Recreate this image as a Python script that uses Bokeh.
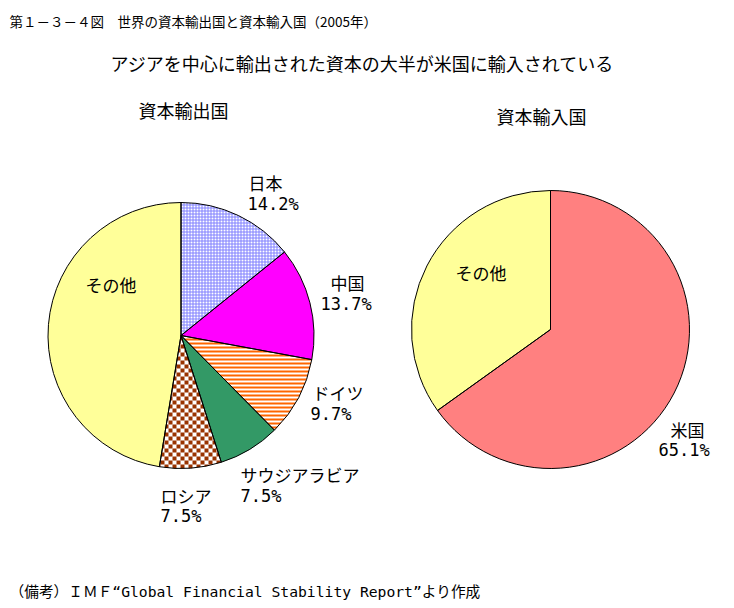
import numpy as np
from bokeh.plotting import figure
from bokeh.models import Range1d, ColumnDataSource
from bokeh.core.properties import value
from bokeh.embed import file_html
from bokeh.resources import INLINE

# ---- data ----
exp_labels = ["日本", "中国", "ドイツ", "サウジアラビア", "ロシア", "その他"]
exp_values = [14.2, 13.7, 9.7, 7.5, 7.5, 47.4]
imp_labels = ["米国", "その他"]
imp_values = [65.1, 34.9]

title = "第１－３－４図　世界の資本輸出国と資本輸入国（2005年）"
subtitle = "アジアを中心に輸出された資本の大半が米国に輸入されている"
exp_title = "資本輸出国"
imp_title = "資本輸入国"
note = "（備考）ＩＭＦ“Global Financial Stability Report”より作成"

# ---- styles ----
exp_fill = ["#8080FF", "#FF00FF", "#FFFFFF", "#339966", "#FFFFFF", "#FFFF99"]
exp_pattern = ["dots", None, "stripes", None, "checker", None]
imp_fill = ["#FF8080", "#FFFF99"]

W, H = 718, 600
def Y(py):
    return H - py

p = figure(width=W, height=H, x_range=Range1d(0, W), y_range=Range1d(0, H),
           output_backend="svg", toolbar_location=None, min_border=0,
           x_axis_type=None, y_axis_type=None)
p.outline_line_color = None
p.grid.visible = False


def clip_convex(subject, clip):
    # Sutherland-Hodgman; clip polygon convex
    cx = np.array(clip)
    area = 0.5 * np.sum(cx[:, 0] * np.roll(cx[:, 1], -1) - np.roll(cx[:, 0], -1) * cx[:, 1])
    orient = 1.0 if area > 0 else -1.0
    out = list(subject)
    n = len(clip)
    for i in range(n):
        if not out:
            break
        ax, ay = clip[i]
        bx, by = clip[(i + 1) % n]
        def inside(P):
            return orient * ((bx - ax) * (P[1] - ay) - (by - ay) * (P[0] - ax)) >= -1e-9
        def inter(S, E):
            d1 = (bx - ax) * (S[1] - ay) - (by - ay) * (S[0] - ax)
            d2 = (bx - ax) * (E[1] - ay) - (by - ay) * (E[0] - ax)
            t = d1 / (d1 - d2)
            return (S[0] + t * (E[0] - S[0]), S[1] + t * (E[1] - S[1]))
        inp = out
        out = []
        S = inp[-1]
        for E in inp:
            if inside(E):
                if not inside(S):
                    out.append(inter(S, E))
                out.append(E)
            elif inside(S):
                out.append(inter(S, E))
            S = E
    return out


def pattern_shapes(kind, cx, cy, r, a0, a1):
    n = max(8, int(abs(a0 - a1) / (2 * np.pi) * 200))
    ang = np.linspace(a0, a1, n)
    sector = [(cx, cy)] + [(cx + r * np.cos(a), cy + r * np.sin(a)) for a in ang]
    sx = [q[0] for q in sector]
    sy = [q[1] for q in sector]
    x0, x1, y0, y1 = np.floor(min(sx)), np.ceil(max(sx)), np.floor(min(sy)), np.ceil(max(sy))
    rects = []
    if kind == "stripes":
        y = y0 - (y0 % 4)
        while y < y1:
            rects.append([(x0, y), (x1, y), (x1, y + 2), (x0, y + 2)])
            y += 4
    elif kind == "checker":
        c = 4
        yy = y0 - (y0 % c)
        while yy < y1:
            xx = x0 - (x0 % c)
            while xx < x1:
                if (int(xx // c) + int(yy // c)) % 2 == 0:
                    rects.append([(xx, yy), (xx + c, yy), (xx + c, yy + c), (xx, yy + c)])
                xx += c
            yy += c
    elif kind == "dots":
        c = 3
        yy = y0 - (y0 % c)
        while yy < y1:
            xx = x0 - (x0 % c)
            while xx < x1:
                rects.append([(xx + 1, yy), (xx + 3, yy), (xx + 3, yy + 2), (xx + 1, yy + 2)])
                xx += c
            yy += c
    xs, ys = [], []
    for rc in rects:
        cl = clip_convex(rc, sector)
        if len(cl) >= 3:
            xs.append([q[0] for q in cl])
            ys.append([q[1] for q in cl])
    return xs, ys


pattern_color = {"dots": "#FFFFFF", "stripes": "#FF6600", "checker": "#993300"}


def pie(vals, cx, cy, r, fills, patterns=None):
    v = np.array(vals, dtype=float)
    frac = v / v.sum()
    cum = np.concatenate([[0], np.cumsum(frac)])
    start = np.pi / 2 - cum[:-1] * 2 * np.pi
    end = np.pi / 2 - cum[1:] * 2 * np.pi
    src = ColumnDataSource(dict(start=start, end=end, fill=fills))
    p.wedge(x=cx, y=cy, radius=r, start_angle="start", end_angle="end",
            direction="clock", source=src, fill_color="fill", line_color=None)
    if patterns is not None:
        for kind, a0, a1 in zip(patterns, start, end):
            if kind is None:
                continue
            xs, ys = pattern_shapes(kind, cx, cy, r, a0, a1)
            p.patches(xs=xs, ys=ys, fill_color=pattern_color[kind], line_color=None)
    p.wedge(x=cx, y=cy, radius=r, start_angle="start", end_angle="end",
            direction="clock", source=src, fill_color=None, line_color="black",
            line_width=1)


pie(exp_values, 180.5, Y(335), 133, exp_fill, exp_pattern)
pie(imp_values, 550, Y(329), 139, imp_fill)

FONT = value("'DejaVu Sans Mono', 'Noto Sans CJK JP'")

def txt(x, y, s, size, align="left", font=FONT):
    p.text(x=[x], y=[Y(y)], text=[s], text_font=font, text_font_size=f"{size}px",
           text_align=align, text_baseline="middle", text_color="black")

# titles
txt(9, 20, title, 13.5, font=value("Noto Sans CJK JP"))
txt(362, 62, subtitle, 18, align="center", font=value("Noto Sans CJK JP"))
txt(183, 111, exp_title, 18, align="center")
txt(541, 117, imp_title, 18, align="center")
txt(9, 591, note, 14.7)

# slice labels (name, pct) positions
exp_pos = [((248, 183), (247, 203)),
           ((330, 283), (320, 303)),
           ((312, 393), (310, 413)),
           ((240, 475), (240, 495)),
           ((160, 496), (160, 515)),
           ((85, 285), None)]
for lab, v, (npos, ppos) in zip(exp_labels, exp_values, exp_pos):
    txt(npos[0], npos[1], lab, 17)
    if ppos is not None:
        txt(ppos[0], ppos[1], f"{v}%", 17)

imp_pos = [((670, 430), (658, 449)),
           ((455, 273), None)]
for lab, v, (npos, ppos) in zip(imp_labels, imp_values, imp_pos):
    txt(npos[0], npos[1], lab, 17)
    if ppos is not None:
        txt(ppos[0], ppos[1], f"{v}%", 17)

open("out.html", "w").write(file_html(p, INLINE))
